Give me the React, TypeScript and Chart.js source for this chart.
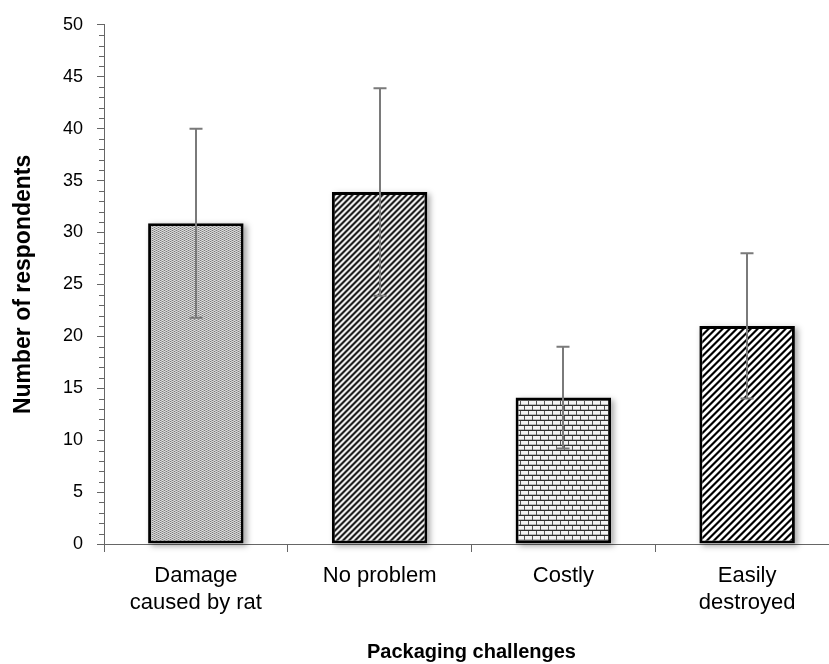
import React, { useEffect, useRef } from "react";
import { Chart, registerables } from "chart.js";

Chart.register(...registerables);

const categories: (string | string[])[] = [
  ["Damage", "caused by rat"],
  "No problem",
  "Costly",
  ["Easily", "destroyed"],
];
const values = [30.9, 33.9, 14.1, 21.0];
const errors = [9.1, 10.0, 4.9, 7.0];
const yMin = 0;
const yMax = 50;
const yStep = 5;
const xTitle = "Packaging challenges";
const yTitle = "Number of respondents";

const FONT = "'Liberation Sans', Arial, sans-serif";

function makePattern(w: number, h: number, fn: (x: number, y: number) => string): CanvasPattern | string {
  const c = document.createElement("canvas");
  c.width = w;
  c.height = h;
  const cx = c.getContext("2d");
  if (!cx) return "#999";
  for (let y = 0; y < h; y++) {
    for (let x = 0; x < w; x++) {
      cx.fillStyle = fn(x, y);
      cx.fillRect(x, y, 1, 1);
    }
  }
  const p = cx.createPattern(c, "repeat");
  return p || "#999";
}

export default function App() {
  const ref = useRef<HTMLCanvasElement | null>(null);

  useEffect(() => {
    if (!ref.current) return;

    const fine = makePattern(4, 4, (x, y) => {
      const k = (x + 2 * y) % 4;
      if (k === 0) return "#7c7c7c";
      if (k === 2) return "#e2e2e2";
      return "#bdbdbd";
    });
    const darkDiag = makePattern(6, 6, (x, y) => {
      const k = (x + y) % 6;
      if (k < 2) return "#1e1e1e";
      if (k === 2 || k === 5) return "#8a8a8a";
      return "#eeeeee";
    });
    const brick = makePattern(8, 10, (x, y) => {
      if (y === 0 || y === 5) return "#2e2e2e";
      if (y < 5 && x === 0) return "#555555";
      if (y > 5 && x === 4) return "#555555";
      if (y === 4 || y === 9) return "#bbbbbb";
      return "#f4f4f4";
    });
    const wideDiag = makePattern(7, 7, (x, y) => {
      const k = (x + y) % 7;
      if (k < 2) return "#000000";
      if (k === 2 || k === 6) return "#7a7a7a";
      return "#ffffff";
    });

    const shadowPlugin = {
      id: "barShadow",
      beforeDatasetsDraw(chart: any) {
        const ctx = chart.ctx;
        const meta = chart.getDatasetMeta(0);
        meta.data.forEach((bar: any) => {
          const { x, y, base, width } = bar.getProps(["x", "y", "base", "width"], true);
          ctx.save();
          ctx.shadowColor = "rgba(0,0,0,0.35)";
          ctx.shadowBlur = 6;
          ctx.shadowOffsetX = 3;
          ctx.shadowOffsetY = 2;
          ctx.fillStyle = "#ffffff";
          ctx.fillRect(x - width / 2, y, width, base - y);
          ctx.restore();
        });
      },
    };

    const errorPlugin = {
      id: "errorBars",
      afterDatasetsDraw(chart: any) {
        const ctx = chart.ctx;
        const ys = chart.scales.y;
        const meta = chart.getDatasetMeta(0);
        ctx.save();
        ctx.strokeStyle = "#7a7a7a";
        ctx.lineWidth = 2;
        meta.data.forEach((bar: any, i: number) => {
          const x = Math.round(bar.x);
          const top = ys.getPixelForValue(values[i] + errors[i]);
          const bot = ys.getPixelForValue(values[i] - errors[i]);
          ctx.beginPath();
          ctx.moveTo(x, top);
          ctx.lineTo(x, bot);
          ctx.moveTo(x - 6.5, top);
          ctx.lineTo(x + 6.5, top);
          ctx.moveTo(x - 6.5, bot);
          ctx.lineTo(x + 6.5, bot);
          ctx.stroke();
        });
        ctx.restore();
      },
    };

    const minorTicks = {
      id: "minorTicks",
      afterDraw(chart: any) {
        const ctx = chart.ctx;
        const ys = chart.scales.y;
        const xr = ys.right;
        ctx.save();
        ctx.strokeStyle = "#666666";
        ctx.lineWidth = 1;
        for (let v = yMin; v <= yMax; v++) {
          if (v % yStep === 0) continue;
          const py = Math.round(ys.getPixelForValue(v)) + 0.5;
          ctx.beginPath();
          ctx.moveTo(xr - 5, py);
          ctx.lineTo(xr, py);
          ctx.stroke();
        }
        ctx.restore();
      },
    };

    const chart = new Chart(ref.current, {
      type: "bar",
      data: {
        labels: categories as any,
        datasets: [
          {
            data: values,
            backgroundColor: [fine, darkDiag, brick, wideDiag] as any,
            borderColor: "#000000",
            borderWidth: 3,
            borderSkipped: false,
            barPercentage: 0.52,
            categoryPercentage: 1,
          },
        ],
      },
      options: {
        responsive: false,
        animation: false,
        devicePixelRatio: 1,
        layout: { padding: { left: 0, right: 1, top: 21, bottom: 0 } },
        plugins: {
          legend: { display: false },
          tooltip: { enabled: false },
        },
        scales: {
          x: {
            offset: true,
            afterFit: (s: any) => {
              s.height = 120;
            },
            border: { display: true, color: "#666666", width: 1 },
            grid: {
              display: true,
              offset: true,
              drawOnChartArea: false,
              drawTicks: true,
              tickLength: 8,
              color: "#666666",
            },
            ticks: {
              color: "#000000",
              padding: 10,
              maxRotation: 0,
              autoSkip: false,
              font: { family: FONT, size: 22, lineHeight: 1.25 },
            },
            title: {
              display: true,
              text: xTitle,
              color: "#000000",
              padding: { top: 1, bottom: 0 },
              font: { family: FONT, size: 20, weight: "bold" },
            },
          },
          y: {
            min: yMin,
            max: yMax,
            afterFit: (s: any) => {
              s.width = 104;
            },
            border: { display: true, color: "#666666", width: 1 },
            grid: {
              display: true,
              drawOnChartArea: false,
              drawTicks: true,
              tickLength: 7,
              color: "#666666",
            },
            ticks: {
              stepSize: yStep,
              color: "#000000",
              padding: 14,
              font: { family: FONT, size: 18 },
            },
            title: {
              display: true,
              text: yTitle,
              color: "#000000",
              padding: { top: 10, bottom: 0 },
              font: { family: FONT, size: 23, weight: "bold" },
            },
          },
        },
      },
      plugins: [shadowPlugin, errorPlugin, minorTicks],
    });

    return () => chart.destroy();
  }, []);

  return (
    <div
      style={{
        position: "fixed",
        left: 0,
        top: 0,
        width: 829,
        height: 664,
        overflow: "hidden",
        background: "#ffffff",
      }}
    >
      <canvas ref={ref} width={840} height={664} style={{ width: 840, height: 664, display: "block" }} />
    </div>
  );
}
